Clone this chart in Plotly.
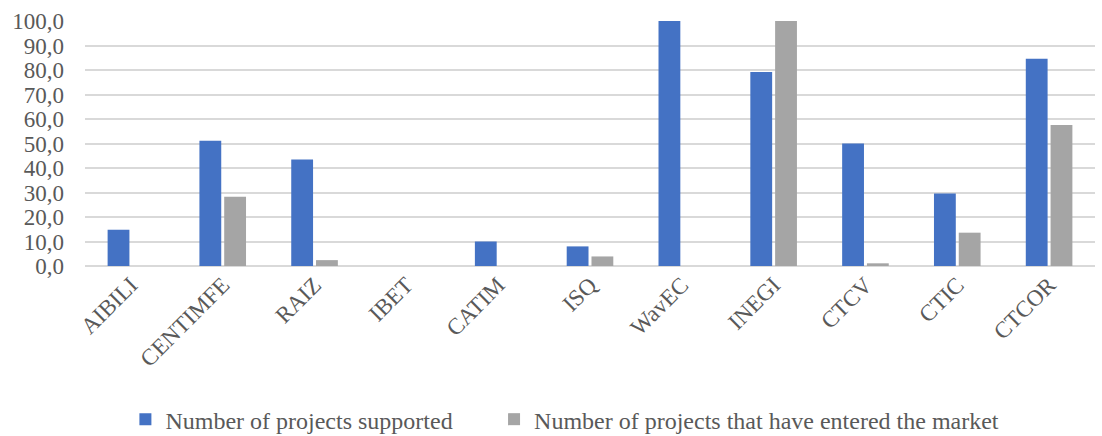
import plotly.graph_objects as go

categories = ["AIBILI", "CENTIMFE", "RAIZ", "IBET", "CATIM", "ISQ", "WavEC", "INEGI", "CTCV", "CTIC", "CTCOR"]
supported = [14.8, 51.1, 43.5, 0.0, 10.0, 8.0, 100.0, 79.2, 50.0, 29.6, 84.6]
entered_market = [0.0, 28.3, 2.4, 0.0, 0.0, 3.9, 0.0, 100.0, 1.1, 13.6, 57.6]
y_ticks = [0, 10, 20, 30, 40, 50, 60, 70, 80, 90, 100]

fig = go.Figure()
fig.add_trace(go.Bar(x=categories, y=supported, name="Number of projects supported",
                     marker=dict(color="#4472C4", line=dict(width=0)), legend="legend"))
fig.add_trace(go.Bar(x=categories, y=entered_market, name="Number of projects that have entered the market",
                     marker=dict(color="#A5A5A5", line=dict(width=0)), legend="legend2"))

leg_common = dict(orientation="h", yanchor="top", y=-0.535, xanchor="left",
                  font=dict(size=24, color="#595959"), itemwidth=30,
                  bgcolor="rgba(0,0,0,0)")

fig.update_layout(
    width=1102, height=436,
    margin=dict(l=85, r=7, t=21, b=170, autoexpand=False),
    paper_bgcolor="white", plot_bgcolor="white",
    barmode="group", bargap=0.46, bargroupgap=0.12,
    separators=",.",
    font=dict(family="Liberation Serif, Times New Roman, serif", size=23, color="#595959"),
    showlegend=True,
    legend=dict(x=0.040, **leg_common),
    legend2=dict(x=0.405, **leg_common),
    xaxis=dict(tickangle=-45, showgrid=False, showline=False, ticks="",
               tickfont=dict(size=23, color="#595959")),
    yaxis=dict(range=[0, 100], tickvals=y_ticks, tickformat=".1f", showgrid=True,
               gridcolor="#D9D9D9", gridwidth=1.5, zeroline=True, zerolinecolor="#D9D9D9",
               zerolinewidth=1.5, showline=False, ticks="", ticklabelstandoff=20,
               tickfont=dict(size=23, color="#595959")),
)

fig.write_html("out.html")
